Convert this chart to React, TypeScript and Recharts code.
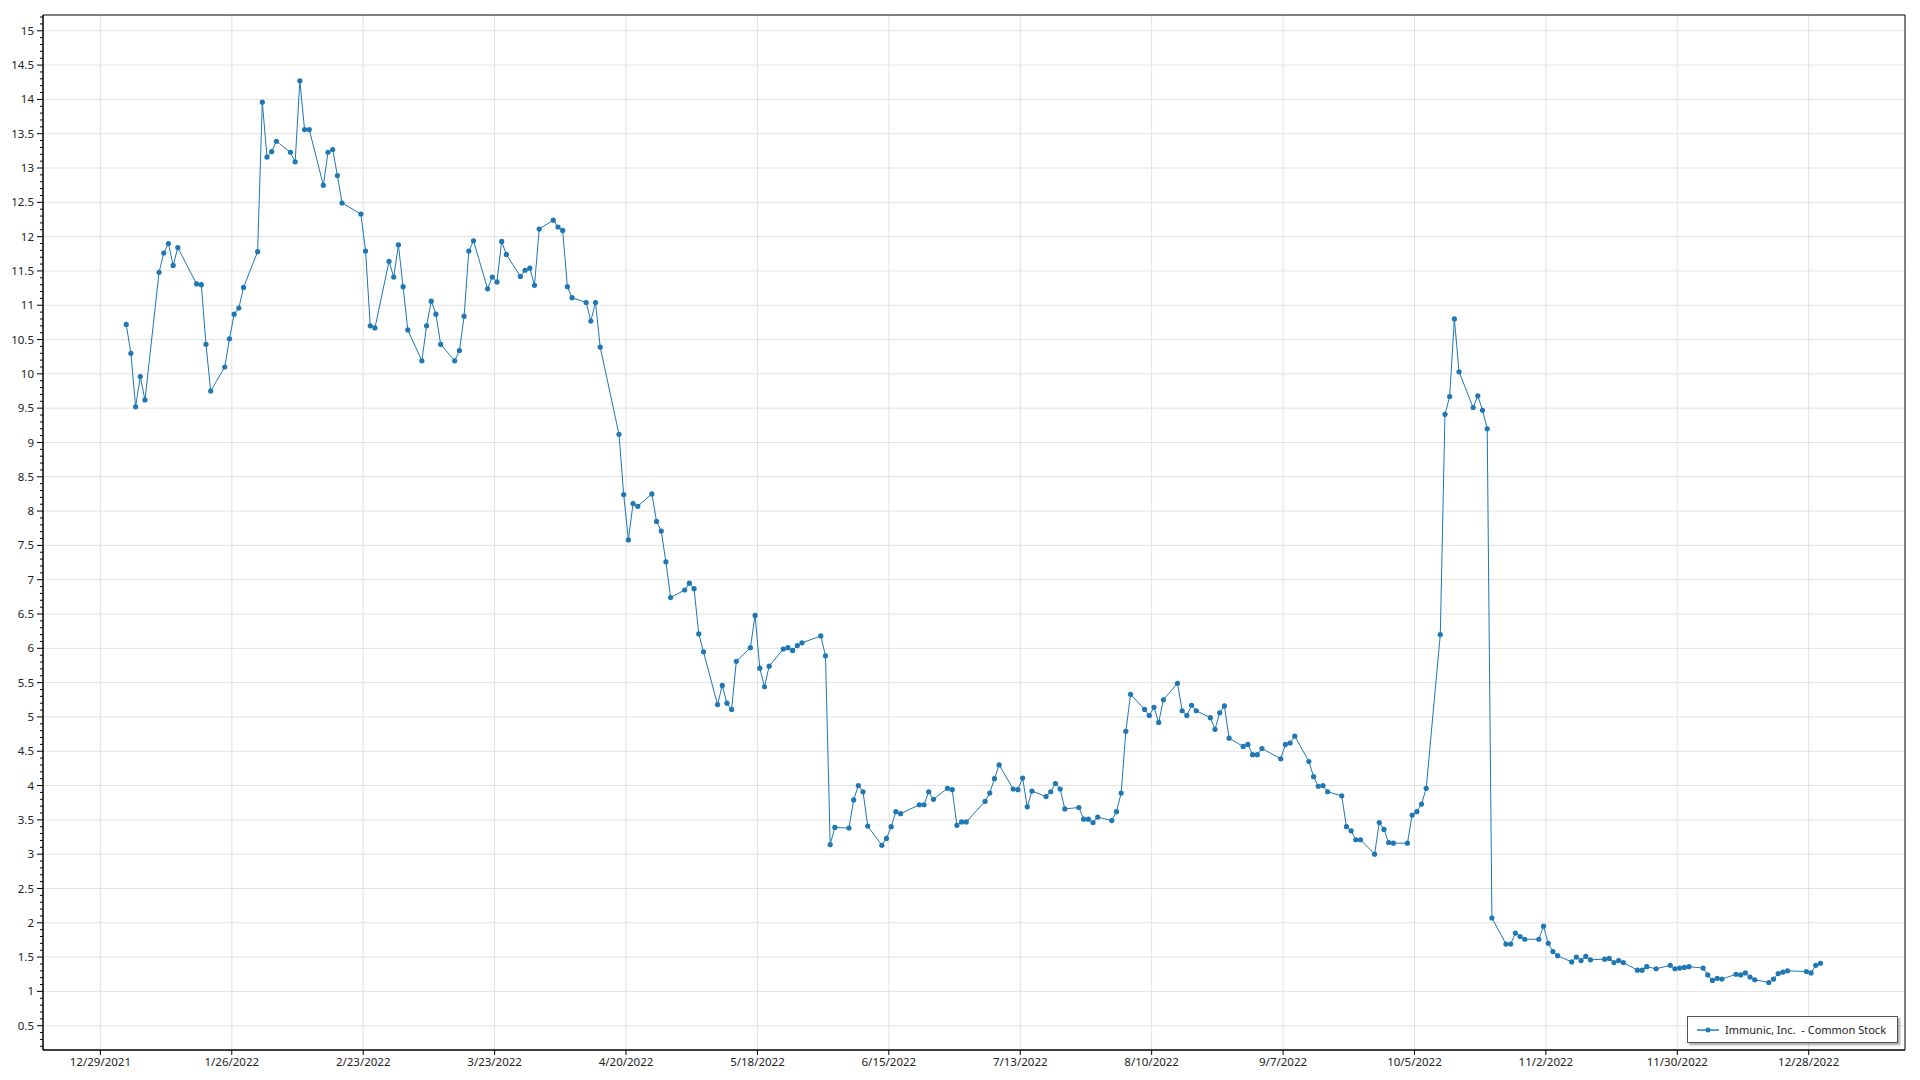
import { LineChart, Line, XAxis, YAxis, CartesianGrid, Legend, ReferenceArea } from 'recharts'

const seriesName = 'Immunic, Inc.  - Common Stock'

const tradeDates = [
  '2022-01-03', '2022-01-04', '2022-01-05', '2022-01-06', '2022-01-07', '2022-01-10', '2022-01-11', '2022-01-12', '2022-01-13', '2022-01-14',
  '2022-01-18', '2022-01-19', '2022-01-20', '2022-01-21', '2022-01-24', '2022-01-25', '2022-01-26', '2022-01-27', '2022-01-28', '2022-01-31',
  '2022-02-01', '2022-02-02', '2022-02-03', '2022-02-04', '2022-02-07', '2022-02-08', '2022-02-09', '2022-02-10', '2022-02-11', '2022-02-14',
  '2022-02-15', '2022-02-16', '2022-02-17', '2022-02-18', '2022-02-22', '2022-02-23', '2022-02-24', '2022-02-25', '2022-02-28',
  '2022-03-01', '2022-03-02', '2022-03-03', '2022-03-04', '2022-03-07', '2022-03-08', '2022-03-09', '2022-03-10', '2022-03-11', '2022-03-14',
  '2022-03-15', '2022-03-16', '2022-03-17', '2022-03-18', '2022-03-21', '2022-03-22', '2022-03-23', '2022-03-24', '2022-03-25', '2022-03-28',
  '2022-03-29', '2022-03-30', '2022-03-31',
  '2022-04-01', '2022-04-04', '2022-04-05', '2022-04-06', '2022-04-07', '2022-04-08', '2022-04-11', '2022-04-12', '2022-04-13', '2022-04-14',
  '2022-04-18', '2022-04-19', '2022-04-20', '2022-04-21', '2022-04-22', '2022-04-25', '2022-04-26', '2022-04-27', '2022-04-28', '2022-04-29',
  '2022-05-02', '2022-05-03', '2022-05-04', '2022-05-05', '2022-05-06', '2022-05-09', '2022-05-10', '2022-05-11', '2022-05-12', '2022-05-13',
  '2022-05-16', '2022-05-17', '2022-05-18', '2022-05-19', '2022-05-20', '2022-05-23', '2022-05-24', '2022-05-25', '2022-05-26', '2022-05-27',
  '2022-05-31',
  '2022-06-01', '2022-06-02', '2022-06-03', '2022-06-06', '2022-06-07', '2022-06-08', '2022-06-09', '2022-06-10', '2022-06-13', '2022-06-14',
  '2022-06-15', '2022-06-16', '2022-06-17', '2022-06-21', '2022-06-22', '2022-06-23', '2022-06-24', '2022-06-27', '2022-06-28', '2022-06-29',
  '2022-06-30',
  '2022-07-01', '2022-07-05', '2022-07-06', '2022-07-07', '2022-07-08', '2022-07-11', '2022-07-12', '2022-07-13', '2022-07-14', '2022-07-15',
  '2022-07-18', '2022-07-19', '2022-07-20', '2022-07-21', '2022-07-22', '2022-07-25', '2022-07-26', '2022-07-27', '2022-07-28', '2022-07-29',
  '2022-08-01', '2022-08-02', '2022-08-03', '2022-08-04', '2022-08-05', '2022-08-08', '2022-08-09', '2022-08-10', '2022-08-11', '2022-08-12',
  '2022-08-15', '2022-08-16', '2022-08-17', '2022-08-18', '2022-08-19', '2022-08-22', '2022-08-23', '2022-08-24', '2022-08-25', '2022-08-26',
  '2022-08-29', '2022-08-30', '2022-08-31',
  '2022-09-01', '2022-09-02', '2022-09-06', '2022-09-07', '2022-09-08', '2022-09-09', '2022-09-12', '2022-09-13', '2022-09-14', '2022-09-15',
  '2022-09-16', '2022-09-19', '2022-09-20', '2022-09-21', '2022-09-22', '2022-09-23', '2022-09-26', '2022-09-27', '2022-09-28', '2022-09-29',
  '2022-09-30',
  '2022-10-03', '2022-10-04', '2022-10-05', '2022-10-06', '2022-10-07', '2022-10-10', '2022-10-11', '2022-10-12', '2022-10-13', '2022-10-14',
  '2022-10-17', '2022-10-18', '2022-10-19', '2022-10-20', '2022-10-21', '2022-10-24', '2022-10-25', '2022-10-26', '2022-10-27', '2022-10-28',
  '2022-10-31',
  '2022-11-01', '2022-11-02', '2022-11-03', '2022-11-04', '2022-11-07', '2022-11-08', '2022-11-09', '2022-11-10', '2022-11-11', '2022-11-14',
  '2022-11-15', '2022-11-16', '2022-11-17', '2022-11-18', '2022-11-21', '2022-11-22', '2022-11-23', '2022-11-25', '2022-11-28', '2022-11-29',
  '2022-11-30',
  '2022-12-01', '2022-12-02', '2022-12-05', '2022-12-06', '2022-12-07', '2022-12-08', '2022-12-09', '2022-12-12', '2022-12-13', '2022-12-14',
  '2022-12-15', '2022-12-16', '2022-12-19', '2022-12-20', '2022-12-21', '2022-12-22', '2022-12-23', '2022-12-27', '2022-12-28', '2022-12-29',
  '2022-12-30',
]

const closes = [
  // Jan
  10.72, 10.30, 9.52, 9.96, 9.62, 11.48, 11.76, 11.90, 11.58, 11.84,
  11.31, 11.30, 10.43, 9.75, 10.10, 10.51, 10.87, 10.96, 11.26, 11.78,
  // Feb
  13.96, 13.16, 13.24, 13.39, 13.23, 13.09, 14.27, 13.56, 13.56, 12.75,
  13.23, 13.27, 12.89, 12.49, 12.33, 11.79, 10.70, 10.67, 11.64,
  // Mar
  11.41, 11.88, 11.27, 10.64, 10.19, 10.70, 11.06, 10.87, 10.43, 10.19,
  10.34, 10.84, 11.79, 11.94, 11.24, 11.41, 11.34, 11.93, 11.74, 11.42,
  11.51, 11.54, 11.29,
  // Apr
  12.11, 12.24, 12.14, 12.09, 11.27, 11.11, 11.04, 10.77, 11.04, 10.39,
  9.12, 8.24, 7.58, 8.11, 8.07, 8.25, 7.85, 7.71, 7.26, 6.74,
  // May
  6.85, 6.95, 6.87, 6.21, 5.95, 5.18, 5.46, 5.20, 5.11, 5.81,
  6.01, 6.48, 5.71, 5.44, 5.74, 5.99, 6.01, 5.97, 6.04, 6.08,
  6.18,
  // Jun
  5.89, 3.14, 3.39, 3.38, 3.79, 4.00, 3.91, 3.41, 3.13, 3.23,
  3.40, 3.62, 3.59, 3.72, 3.72, 3.91, 3.80, 3.96, 3.94, 3.42,
  3.47,
  // Jul
  3.47, 3.77, 3.89, 4.10, 4.30, 3.95, 3.94, 4.11, 3.69, 3.92,
  3.84, 3.91, 4.03, 3.95, 3.66, 3.68, 3.51, 3.51, 3.46, 3.54,
  // Aug
  3.49, 3.62, 3.89, 4.79, 5.33, 5.11, 5.02, 5.14, 4.92, 5.25,
  5.49, 5.09, 5.02, 5.17, 5.09, 4.99, 4.82, 5.06, 5.16, 4.69,
  4.57, 4.60, 4.45,
  // Sep
  4.45, 4.54, 4.39, 4.60, 4.62, 4.72, 4.35, 4.13, 3.99, 4.00,
  3.91, 3.85, 3.40, 3.34, 3.21, 3.21, 3.00, 3.46, 3.36, 3.17,
  3.16,
  // Oct
  3.16, 3.57, 3.62, 3.73, 3.96, 6.20, 9.41, 9.67, 10.80, 10.03,
  9.51, 9.68, 9.47, 9.20, 2.07, 1.69, 1.69, 1.85, 1.80, 1.76,
  1.76,
  // Nov
  1.95, 1.70, 1.58, 1.52, 1.43, 1.50, 1.45, 1.51, 1.46, 1.47,
  1.48, 1.42, 1.45, 1.42, 1.31, 1.31, 1.36, 1.33, 1.38, 1.33,
  1.34,
  // Dec
  1.35, 1.36, 1.34, 1.24, 1.16, 1.19, 1.18, 1.25, 1.24, 1.27,
  1.21, 1.17, 1.13, 1.18, 1.26, 1.28, 1.30, 1.29, 1.27, 1.38,
  1.41,
]

const xTickDates = [
  '2021-12-29', '2022-01-26', '2022-02-23', '2022-03-23', '2022-04-20', '2022-05-18', '2022-06-15',
  '2022-07-13', '2022-08-10', '2022-09-07', '2022-10-05', '2022-11-02', '2022-11-30', '2022-12-28',
]

const yTicks = [
  0.5, 1, 1.5, 2, 2.5, 3, 3.5, 4, 4.5, 5, 5.5, 6, 6.5, 7, 7.5,
  8, 8.5, 9, 9.5, 10, 10.5, 11, 11.5, 12, 12.5, 13, 13.5, 14, 14.5, 15,
]

const DAY = 86400000
const COLOR = '#1f77b4'
const FONT = "'Segoe UI', 'Noto Sans', sans-serif"

function toTime(s: string, hour = 0) {
  const [y, m, d] = s.split('-').map(Number)
  return Date.UTC(y, m - 1, d, hour)
}

const chartData = tradeDates.map((d, i) => ({ t: toTime(d, 12), close: closes[i] }))
const xTicks = xTickDates.map(d => toTime(d))
const xDomain = [toTime('2021-12-29') - 12.23 * DAY, toTime('2022-12-28') + 20.52 * DAY]
const yDomain = [0.146, 15.23]

// major + minor (every 0.1) ticks on the y axis
const yAllTicks: number[] = []
for (let k = 2; k <= 152; k++) yAllTicks.push(k / 10)

function fmtDate(t: number) {
  const d = new Date(t)
  return `${d.getUTCMonth() + 1}/${d.getUTCDate()}/${d.getUTCFullYear()}`
}

function YTick(props: any) {
  const { x, y, payload } = props
  const v = payload.value
  const major = Math.round(v * 10) % 5 === 0
  const axisX = x + 9
  return (
    <g>
      <line x1={axisX - (major ? 6 : 3)} x2={axisX} y1={y} y2={y} stroke="#000" strokeWidth={1} />
      {major && (
        <text x={x} y={y} dy="0.35em" textAnchor="end" fontSize={11.5} fontFamily={FONT} fill="#222">
          {String(v)}
        </text>
      )}
    </g>
  )
}

function LegendBox() {
  return (
    <div
      style={{
        boxSizing: 'border-box',
        width: 211,
        height: 27,
        border: '1px solid #555',
        background: '#fff',
        boxShadow: '2px 2px 2px rgba(0,0,0,0.35)',
        display: 'flex',
        alignItems: 'center',
        fontFamily: FONT,
        fontSize: 11,
        color: '#222',
        whiteSpace: 'pre',
      }}
    >
      <svg width={24} height={12} style={{ marginLeft: 9, marginRight: 4 }}>
        <line x1={0} x2={22} y1={6} y2={6} stroke="#5b9bd5" strokeWidth={2} />
        <circle cx={11} cy={6} r={2.5} fill={COLOR} />
      </svg>
      <span>{seriesName}</span>
    </div>
  )
}

export default function App() {
  return (
    <div style={{ position: 'absolute', left: 0, top: 0, width: 1920, height: 1080, background: '#fff' }}>
      <LineChart width={1920} height={1080} data={chartData} margin={{ top: 15, right: 15, bottom: 0, left: 0 }}>
        <CartesianGrid stroke="#e2e2e2" horizontalValues={yTicks} verticalValues={xTicks} />
        <XAxis
          dataKey="t"
          type="number"
          scale="time"
          domain={xDomain}
          allowDataOverflow
          ticks={xTicks}
          interval={0}
          tickFormatter={fmtDate}
          height={30}
          tickSize={5}
          tickMargin={3}
          stroke="#000"
          tick={{ fontSize: 11.5, fontFamily: FONT, fill: '#222' }}
        />
        <YAxis
          type="number"
          domain={yDomain}
          allowDataOverflow
          ticks={yAllTicks}
          interval={0}
          width={43}
          tickSize={6}
          tickMargin={3}
          tickLine={false}
          stroke="#000"
          tick={<YTick />}
        />
        <ReferenceArea x1={xDomain[0]} x2={xDomain[1]} y1={yDomain[0]} y2={yDomain[1]} fill="none" stroke="#000" strokeWidth={1} />
        <Legend
          layout="horizontal"
          verticalAlign="middle"
          align="center"
          content={() => <LegendBox />}
          wrapperStyle={{ left: 1687, top: 1016, width: 211, height: 27 }}
        />
        <Line
          type="linear"
          dataKey="close"
          name={seriesName}
          stroke={COLOR}
          strokeWidth={1}
          dot={{ r: 2.6, fill: COLOR, stroke: 'none' }}
          activeDot={false}
          isAnimationActive={false}
        />
      </LineChart>
    </div>
  )
}
